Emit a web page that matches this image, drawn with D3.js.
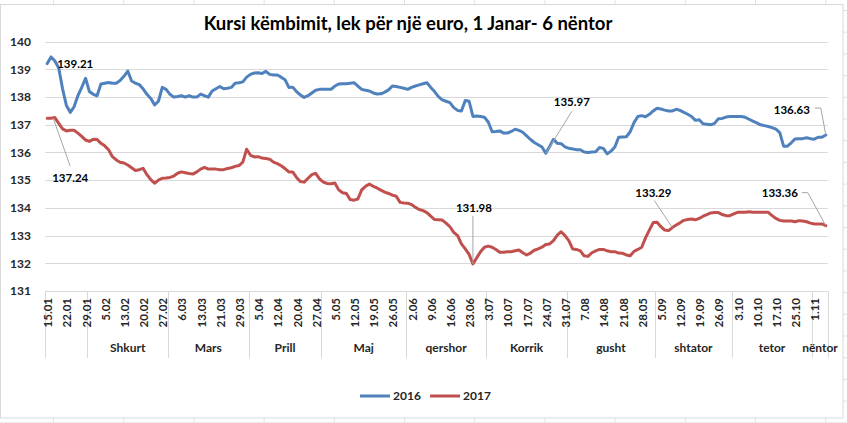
<!DOCTYPE html>
<html>
<head>
<meta charset="utf-8">
<script src="https://cdn.jsdelivr.net/npm/d3@7"></script>
<style>
  body { margin: 0; background: #ffffff; }
  text { font-family: Lato, "Open Sans", sans-serif; }
</style>
</head>
<body>
<script>

// Month groups of the category axis (number of daily points in each)
var monthNames = ["", "Shkurt", "Mars", "Prill", "Maj", "qershor", "Korrik", "gusht", "shtator", "tetor", "nëntor"];
var monthCounts = [11, 21, 21, 19, 22, 21, 21, 23, 20, 21, 4];

// Date labels shown on the axis, one every 5 points
var tickLabels = ["15.01", "22.01", "29.01", "5.02", "13.02", "20.02", "27.02", "6.03", "13.03", "21.03",
  "29.03", "5.04", "12.04", "20.04", "27.04", "5.05", "12.05", "19.05", "26.05", "2.06",
  "9.06", "16.06", "23.06", "3.07", "10.07", "17.07", "24.07", "31.07", "7.08", "14.08",
  "21.08", "28.05", "5.09", "12.09", "19.09", "26.09", "3.10", "10.10", "17.10", "25.10", "1.11"];

var yTicks = [131, 132, 133, 134, 135, 136, 137, 138, 139, 140];

var seriesNames = ["2016", "2017"];

var rate2016 = [
  139.21, 139.45, 139.3, 139.05, 138.3, 137.7, 137.45, 137.65, 138.05, 138.35,
  138.68, 138.2, 138.1, 138.05, 138.47, 138.5, 138.53, 138.5, 138.5, 138.6,
  138.75, 138.94, 138.58, 138.5, 138.45, 138.3, 138.1, 137.95, 137.72, 137.85,
  138.35, 138.28, 138.1, 138.0, 138.02, 138.05, 138.0, 138.05, 138.0, 138.0,
  138.11, 138.05, 138.0, 138.22, 138.3, 138.38, 138.3, 138.32, 138.35, 138.5,
  138.52, 138.55, 138.72, 138.82, 138.87, 138.88, 138.85, 138.93, 138.82, 138.8,
  138.8, 138.72, 138.63, 138.35, 138.36, 138.2, 138.08, 137.99, 138.05, 138.15,
  138.25, 138.28, 138.28, 138.28, 138.28, 138.4, 138.47, 138.48, 138.48, 138.5,
  138.52, 138.4, 138.28, 138.25, 138.22, 138.15, 138.11, 138.12, 138.18, 138.26,
  138.4, 138.38, 138.35, 138.32, 138.28, 138.35, 138.4, 138.44, 138.48, 138.52,
  138.35, 138.2, 138.02, 137.9, 137.85, 137.8, 137.62, 137.52, 137.5, 137.88,
  137.85, 137.3, 137.32, 137.3, 137.27, 137.1, 136.75, 136.76, 136.78, 136.7,
  136.7, 136.76, 136.84, 136.8, 136.73, 136.6, 136.47, 136.36, 136.28, 136.2,
  135.97, 136.22, 136.48, 136.33, 136.32, 136.2, 136.15, 136.13, 136.1, 136.1,
  136.02, 136.0, 136.02, 136.03, 136.18, 136.15, 135.95, 136.05, 136.2, 136.55,
  136.56, 136.57, 136.75, 137.08, 137.3, 137.33, 137.29, 137.38, 137.5, 137.6,
  137.57, 137.53, 137.5, 137.5, 137.56, 137.52, 137.45, 137.38, 137.3, 137.16,
  137.18, 137.04, 137.02, 137.0, 137.05, 137.22, 137.23, 137.28, 137.3, 137.3,
  137.3, 137.3, 137.27, 137.2, 137.13, 137.07, 137.0, 136.97, 136.94, 136.9,
  136.84, 136.72, 136.23, 136.23, 136.35, 136.49, 136.5, 136.5, 136.53, 136.5,
  136.48, 136.55, 136.55, 136.63];

var rate2017 = [
  137.24, 137.24, 137.26, 137.05, 136.85, 136.78, 136.8, 136.8, 136.7, 136.58,
  136.45, 136.4, 136.48, 136.47, 136.33, 136.24, 136.1, 135.85, 135.73, 135.65,
  135.62, 135.55, 135.45, 135.35, 135.38, 135.43, 135.2, 135.02, 134.89, 135.0,
  135.07, 135.08, 135.1, 135.15, 135.25, 135.3, 135.27, 135.24, 135.22, 135.3,
  135.4, 135.46, 135.4, 135.4, 135.4, 135.38, 135.38, 135.42, 135.45, 135.5,
  135.53, 135.65, 136.12, 135.9, 135.84, 135.85, 135.8, 135.78, 135.76, 135.65,
  135.6, 135.52, 135.42, 135.3, 135.3, 135.1, 134.95, 134.93, 135.07, 135.2,
  135.25, 135.05, 134.93, 134.88, 134.87, 134.9, 134.65, 134.55, 134.52, 134.3,
  134.28, 134.32, 134.65, 134.78, 134.86, 134.78, 134.72, 134.64, 134.57, 134.52,
  134.46, 134.42, 134.2, 134.18, 134.17, 134.12, 134.02, 133.94, 133.9, 133.83,
  133.7, 133.58, 133.57, 133.56, 133.45, 133.32, 133.12, 133.0, 132.7, 132.52,
  132.32, 131.98, 132.2, 132.42, 132.58, 132.62, 132.58, 132.5, 132.4, 132.4,
  132.42, 132.42, 132.45, 132.48, 132.38, 132.3, 132.37, 132.47, 132.52, 132.58,
  132.68, 132.7, 132.82, 133.02, 133.14, 133.0, 132.82, 132.52, 132.5, 132.45,
  132.27, 132.25, 132.38, 132.45, 132.5, 132.5, 132.45, 132.42, 132.42, 132.37,
  132.36, 132.3, 132.27, 132.43, 132.5, 132.58, 132.92, 133.2, 133.47, 133.48,
  133.32, 133.2, 133.18, 133.29, 133.38, 133.46, 133.55, 133.58, 133.6, 133.57,
  133.62, 133.7, 133.76, 133.82, 133.83, 133.83, 133.76, 133.72, 133.72, 133.78,
  133.84, 133.84, 133.84, 133.86, 133.84, 133.84, 133.84, 133.84, 133.84, 133.72,
  133.62, 133.55, 133.53, 133.53, 133.53, 133.5, 133.54, 133.53, 133.5, 133.45,
  133.42, 133.42, 133.42, 133.36];

// Points that carry a data label: series, point index
var labelSeries = [0, 1, 1, 0, 1, 0, 1];
var labelIndex = [0, 0, 111, 130, 163, 203, 203];


function drawChart() {

  var wx = 847,
      hy = 423;

  var colors = ["#4f81bd", "#c0504d"];
  var gridColor = "#d9d9d9";
  var textColor = "#262626";

  var svg = d3.select("body")
      .append("svg")
      .attr("width", wx)
      .attr("height", hy);

  // Spreadsheet cells behind the chart
  var sheet = svg.append("g");
  for (var cx = 53.5; cx < wx; cx += 70.2) {
    sheet.append("line")
        .attr("x1", cx).attr("y1", 0)
        .attr("x2", cx).attr("y2", hy)
        .style("stroke", "#e3e3e3");
  }
  for (var cy = 10.5; cy < hy; cy += 21.7) {
    sheet.append("line")
        .attr("x1", 0).attr("y1", cy)
        .attr("x2", wx).attr("y2", cy)
        .style("stroke", "#e3e3e3");
  }

  // Chart area
  svg.append("rect")
      .attr("x", 0.5)
      .attr("y", 4.5)
      .attr("width", 842.5)
      .attr("height", 413.5)
      .style("fill", "#ffffff")
      .style("stroke", gridColor);

  var n = rate2016.length;
  var plotLeft = 45.3,
      plotRight = 827.7,
      plotTop = 41.7,
      plotBottom = 291;

  var x = d3.scaleBand()
      .domain(d3.range(n))
      .range([plotLeft, plotRight])
      .paddingInner(0);

  var xc = function(i) { return x(i) + x.bandwidth() / 2; };

  var y = d3.scaleLinear()
      .domain([131, 140])
      .range([plotBottom, plotTop]);

  // Title
  svg.append("text")
      .attr("x", 408)
      .attr("y", 30)
      .attr("text-anchor", "middle")
      .style("font-size", "18.5px")
      .style("font-weight", "bold")
      .style("fill", "#000000")
      .text("Kursi këmbimit, lek për një euro, 1 Janar- 6 nëntor");

  // Horizontal gridlines
  svg.append("g")
    .selectAll("line")
    .data(yTicks)
    .enter().append("line")
      .attr("x1", plotLeft)
      .attr("x2", plotRight)
      .attr("y1", function(d) { return Math.round(y(d)) + 0.5; })
      .attr("y2", function(d) { return Math.round(y(d)) + 0.5; })
      .style("stroke", gridColor)
      .style("stroke-width", 1);

  // Y axis labels
  svg.append("g")
    .selectAll("text")
    .data(yTicks)
    .enter().append("text")
      .attr("x", 31)
      .attr("y", function(d) { return y(d); })
      .attr("dy", "0.35em")
      .attr("text-anchor", "end")
      .style("font-size", "12px")
      .style("font-weight", "bold")
      .style("fill", textColor)
      .text(function(d) { return d; });

  // Month boundaries on the category axis
  var bounds = [0];
  monthCounts.forEach(function(c, k) { bounds.push(bounds[k] + c); });
  var bx = function(b) { return b < n ? x(b) : plotRight; };

  svg.append("g")
    .selectAll("line")
    .data(bounds)
    .enter().append("line")
      .attr("x1", function(b) { return Math.round(bx(b)) + 0.5; })
      .attr("x2", function(b) { return Math.round(bx(b)) + 0.5; })
      .attr("y1", plotBottom)
      .attr("y2", 358)
      .style("stroke", gridColor)
      .style("stroke-width", 1);

  // Date tick labels, rotated
  svg.append("g")
    .selectAll("text")
    .data(tickLabels)
    .enter().append("text")
      .attr("transform", function(d, k) { return "translate(" + (xc(k * 5) + 1) + ",298) rotate(-90)"; })
      .attr("dy", "0.35em")
      .attr("text-anchor", "end")
      .style("font-size", "11.5px")
      .style("font-weight", "bold")
      .style("fill", textColor)
      .text(function(d) { return d; });

  // Month names
  svg.append("g")
    .selectAll("text")
    .data(monthNames)
    .enter().append("text")
      .attr("x", function(d, k) { return (bx(bounds[k]) + bx(bounds[k + 1])) / 2; })
      .attr("y", 352)
      .attr("text-anchor", "middle")
      .style("font-size", "12px")
      .style("font-weight", "bold")
      .style("fill", textColor)
      .text(function(d) { return d; });

  // Lines
  var line = d3.line()
      .x(function(d, i) { return xc(i); })
      .y(function(d) { return y(d); });

  var seriesData = [rate2016, rate2017];

  svg.append("g")
    .selectAll("path")
    .data(seriesData)
    .enter().append("path")
      .attr("d", line)
      .style("fill", "none")
      .style("stroke", function(d, s) { return colors[s]; })
      .style("stroke-width", 3)
      .style("stroke-linejoin", "round")
      .style("stroke-linecap", "round");

  // Data labels with leader lines; offsets of label centre from its point
  var labelDx = [28, 23, 1, 26, -19, -34, -46];
  var labelDy = [0, 60, -56, -51, -35, -25, -33];
  var labelLeaders = [
    null,
    [[6, 0], [23, 48]],
    [[0, -48], [0, 0]],
    [[26, -42], [0, 0]],
    [[-18, -27], [0, 0]],
    [[-11, -27], [-5, -27], [0, 0]],
    [[-24, -33], [-18, -33], [0, 0]]
  ];
  var fmt = d3.format(".2f");

  labelIndex.forEach(function(idx, k) {
    var v = seriesData[labelSeries[k]][idx];
    var px = xc(idx), py = y(v);
    if (labelLeaders[k]) {
      svg.append("path")
          .attr("d", d3.line()(labelLeaders[k].map(function(p) { return [px + p[0], py + p[1]]; })))
          .style("fill", "none")
          .style("stroke", "#a6a6a6")
          .style("stroke-width", 1);
    }
    svg.append("text")
        .attr("x", px + labelDx[k])
        .attr("y", py + labelDy[k])
        .attr("dy", "0.35em")
        .attr("text-anchor", "middle")
        .style("font-size", "11.5px")
        .style("font-weight", "bold")
        .style("fill", "#000000")
        .text(fmt(v));
  });

  // Legend
  var legend = svg.append("g")
    .selectAll("g")
    .data(seriesNames)
    .enter().append("g")
      .attr("transform", function(d, s) { return "translate(" + (360 + s * 70) + ",396)"; });

  legend.append("line")
      .attr("x1", 0)
      .attr("x2", 30)
      .style("stroke", function(d, s) { return colors[s]; })
      .style("stroke-width", 3);

  legend.append("text")
      .attr("x", 33)
      .attr("dy", "0.35em")
      .style("font-size", "12px")
      .style("font-weight", "bold")
      .style("fill", textColor)
      .text(function(d) { return d; });
}
drawChart();

</script>
</body>
</html>
